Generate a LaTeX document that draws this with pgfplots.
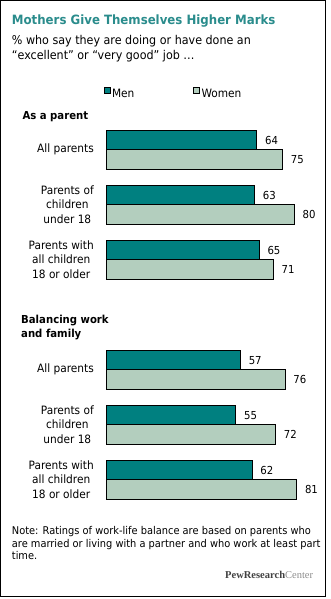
\documentclass[border=0pt]{standalone}
\usepackage{pgfplots}
\pgfplotsset{compat=1.18}
\usepackage{fontspec}
\setmainfont{DejaVu Sans}[FakeStretch=0.92]
\newfontfamily\logofont{Liberation Serif}
\definecolor{men}{HTML}{008080}
\definecolor{women}{HTML}{B3CEBE}
\definecolor{titleteal}{HTML}{2A8C8C}
\definecolor{logodark}{HTML}{404040}
\definecolor{logolight}{HTML}{8C8C8C}
\begin{document}
\begin{tikzpicture}[x=1pt,y=1pt]
\useasboundingbox (0,0) rectangle (330,-599);
\draw[line width=1pt] (0.5,-0.5) rectangle (325.5,-596.5);
\node[anchor=base west, inner sep=0pt, text=titleteal, font=\fontsize{12.8}{15}\selectfont\bfseries] at (11.7,-24.3) {Mothers Give Themselves Higher Marks};
\node[anchor=base west, inner sep=0pt, font=\fontsize{12.1}{15}\selectfont] at (11.7,-44.3) {\% who say they are doing or have done an};
\node[anchor=base west, inner sep=0pt, font=\fontsize{12.1}{15}\selectfont] at (11.7,-59.3) {“excellent” or “very good” job …};
\node[anchor=base west, inner sep=0pt, font=\fontsize{11}{14}\selectfont\bfseries] at (22.3,-120) {As a parent};
\node[anchor=base west, inner sep=0pt, font=\fontsize{11}{14}\selectfont\bfseries] at (21,-323.7) {Balancing work};
\node[anchor=base west, inner sep=0pt, font=\fontsize{11}{14}\selectfont\bfseries] at (21,-337.3) {and family};
\node[anchor=base west, inner sep=0pt, font=\fontsize{10.7}{12.5}\selectfont] at (11.7,-534.3) {Note: Ratings of work-life balance are based on parents who};
\node[anchor=base west, inner sep=0pt, font=\fontsize{10.7}{12.5}\selectfont] at (11.7,-547) {are married or living with a partner and who work at least part};
\node[anchor=base west, inner sep=0pt, font=\fontsize{10.7}{12.5}\selectfont] at (11.7,-559.3) {time.};
\node[anchor=base east, inner sep=0pt, font=\logofont\fontsize{10.5}{12}\selectfont] at (313.3,-578.3) {\textcolor{logodark}{\bfseries PewResearch}\textcolor{logolight}{Center}};
\begin{axis}[
  at={(106.7pt,-122.2pt)}, anchor=north west,
  scale only axis, width=234.5pt, height=385pt,
  xmin=0, xmax=100, ymin=-0.5, ymax=6.5, y dir=reverse,
  clip=false,
  axis line style={draw=none},
  xtick=\empty,
  ytick={0,1,2,4,5,6},
  yticklabels={All parents, Parents of\\children\\under 18, Parents with\\all children\\18 or older, All parents, Parents of\\children\\under 18, Parents with\\all children\\18 or older},
  major tick length=0pt,
  tick style={draw=none},
  yticklabel style={align=center, anchor=east, inner sep=0pt, xshift=-12.7pt, font=\fontsize{11.5}{14.7}\selectfont},
  /pgf/number format/assume math mode=true,
  point meta=x,
  nodes near coords,
  every node near coord/.append style={anchor=west, inner sep=0pt, xshift=8pt, font=\fontsize{11}{13}\selectfont},
  legend columns=2,
  legend style={at={(axis description cs:0,1)}, anchor=south west, draw=none, fill=none, inner sep=0pt,
    xshift=-3.4pt, yshift=22pt, font=\fontsize{11.5}{13}\selectfont,
    /tikz/every even column/.append style={column sep=57pt},
    nodes={inner sep=1.5pt}},
]
\addplot[xbar, bar width=19.3pt, bar shift=0pt, fill=men, draw=black, line width=0.8pt,
  legend image code/.code={\draw[fill=men, draw=black, line width=0.6pt] (0pt,0pt) rectangle (6.5pt,6.7pt);}]
  coordinates {(64,-0.175) (63,0.825) (65,1.825) (57,3.825) (55,4.825) (62,5.825)};
\addlegendentry{Men}
\addplot[xbar, bar width=19.3pt, bar shift=0pt, fill=women, draw=black, line width=0.8pt,
  legend image code/.code={\draw[fill=women, draw=black, line width=0.6pt] (0pt,0pt) rectangle (6.5pt,6.7pt);}]
  coordinates {(75,0.175) (80,1.175) (71,2.175) (76,4.175) (72,5.175) (81,6.175)};
\addlegendentry{Women}
\end{axis}
\end{tikzpicture}
\end{document}
